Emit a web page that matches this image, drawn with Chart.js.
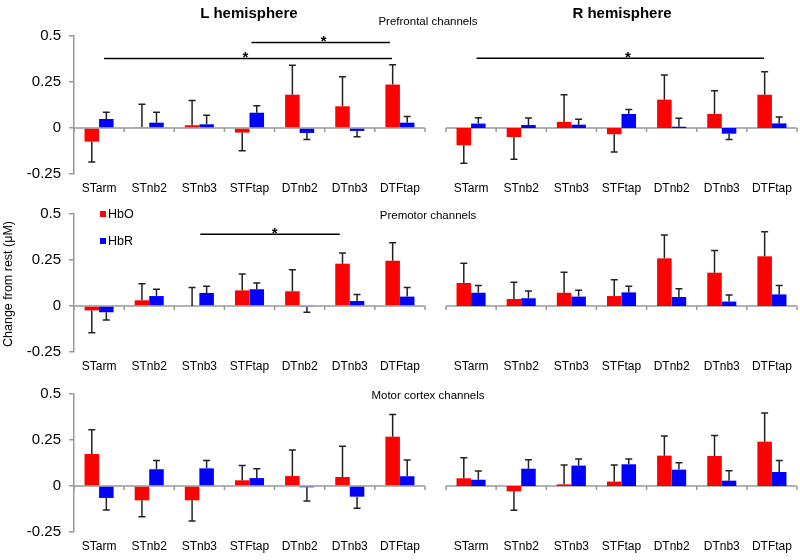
<!DOCTYPE html>
<html>
<head>
<meta charset="utf-8">
<script src="https://cdn.jsdelivr.net/npm/chart.js@4.4.0/dist/chart.umd.min.js"></script>
<style>
  body { margin: 0; background: #fff; }
  #wrap { position: relative; width: 800px; height: 560px; font-family: "Liberation Sans", Arial, sans-serif; color: #000; }
  #wrap canvas { position: absolute; }
  .txt { position: absolute; transform: translate(-50%, -50%); white-space: nowrap; }
  .hemi { font-size: 15px; font-weight: bold; }
  .region { font-size: 11.5px; }
  .ytitle { font-size: 12.5px; transform: translate(-50%, -50%) rotate(-90deg); }
  .leg { position: absolute; font-size: 12.5px; line-height: 14px; }
  .leg i { display: inline-block; width: 6px; height: 6px; margin-right: 2px; vertical-align: 1px; }
</style>
</head>
<body>
<div id="wrap">
  <canvas id="pfL" width="430" height="200" style="left:0;top:0"></canvas>
  <canvas id="pfR" width="370" height="200" style="left:430px;top:0"></canvas>
  <canvas id="pmL" width="430" height="198" style="left:0;top:180px"></canvas>
  <canvas id="pmR" width="370" height="198" style="left:430px;top:180px"></canvas>
  <canvas id="mcL" width="430" height="198" style="left:0;top:360px"></canvas>
  <canvas id="mcR" width="370" height="198" style="left:430px;top:360px"></canvas>

  <div class="txt hemi" style="left:249px;top:12px">L hemisphere</div>
  <div class="txt hemi" style="left:622px;top:12px">R hemisphere</div>
  <div class="txt region" style="left:428px;top:21px">Prefrontal channels</div>
  <div class="txt region" style="left:428px;top:215px">Premotor channels</div>
  <div class="txt region" style="left:428px;top:395px">Motor cortex channels</div>
  <div class="txt ytitle" style="left:8px;top:284px">Change from rest (μM)</div>
  <div class="leg" style="left:100px;top:207px"><i style="background:#ff0000"></i>HbO</div>
  <div class="leg" style="left:100px;top:234px"><i style="background:#0000ff"></i>HbR</div>
</div>

<script>
var conditions = ['STarm', 'STnb2', 'STnb3', 'STFtap', 'DTnb2', 'DTnb3', 'DTFtap'];

// Prefrontal
var pfL_hbo = [-0.074, 0.005, 0.015, -0.025, 0.181, 0.118, 0.236];
var pfL_hboErr = [0.111, 0.124, 0.135, 0.098, 0.160, 0.161, 0.108];
var pfL_hbr = [0.049, 0.029, 0.020, 0.083, -0.027, -0.016, 0.029];
var pfL_hbrErr = [0.036, 0.056, 0.049, 0.038, 0.035, 0.031, 0.034];
var pfR_hbo = [-0.094, -0.049, 0.033, -0.034, 0.154, 0.076, 0.181];
var pfR_hboErr = [0.098, 0.121, 0.148, 0.096, 0.134, 0.127, 0.125];
var pfR_hbr = [0.024, 0.016, 0.018, 0.076, 0.007, -0.031, 0.025];
var pfR_hbrErr = [0.032, 0.038, 0.029, 0.025, 0.046, 0.031, 0.035];

// Premotor
var pmL_hbo = [-0.024, 0.031, 0.0, 0.085, 0.080, 0.230, 0.246];
var pmL_hboErr = [0.121, 0.090, 0.100, 0.089, 0.117, 0.058, 0.098];
var pmL_hbr = [-0.034, 0.054, 0.071, 0.091, -0.005, 0.027, 0.051];
var pmL_hbrErr = [0.042, 0.037, 0.036, 0.034, 0.029, 0.036, 0.049];
var pmR_hbo = [0.125, 0.038, 0.072, 0.054, 0.259, 0.181, 0.270];
var pmR_hboErr = [0.107, 0.091, 0.111, 0.089, 0.127, 0.120, 0.134];
var pmR_hbr = [0.072, 0.042, 0.051, 0.074, 0.049, 0.024, 0.063];
var pmR_hbrErr = [0.039, 0.040, 0.034, 0.033, 0.045, 0.036, 0.049];

// Motor cortex
var mcL_hbo = [0.174, -0.078, -0.078, 0.031, 0.054, 0.049, 0.268];
var mcL_hboErr = [0.132, 0.089, 0.112, 0.080, 0.142, 0.167, 0.120];
var mcL_hbr = [-0.065, 0.091, 0.096, 0.043, -0.007, -0.058, 0.053];
var mcL_hbrErr = [0.065, 0.047, 0.043, 0.051, 0.075, 0.063, 0.088];
var mcR_hbo = [0.042, -0.029, 0.009, 0.024, 0.165, 0.163, 0.241];
var mcR_hboErr = [0.112, 0.103, 0.105, 0.090, 0.107, 0.111, 0.156];
var mcR_hbr = [0.034, 0.094, 0.111, 0.118, 0.089, 0.029, 0.076];
var mcR_hbrErr = [0.048, 0.049, 0.036, 0.029, 0.038, 0.054, 0.062];

// significance brackets: category index range, height (µM), asterisk position
var pfL_sig = [{ from: 0.1, to: 5.84, y: 0.378, star: 2.92 }, { from: 3.04, to: 5.8, y: 0.465, star: 4.48 }];
var pfR_sig = [{ from: 0.11, to: 5.84, y: 0.379, star: 3.13 }];
var pmL_sig = [{ from: 2.02, to: 4.8, y: 0.39, star: 3.5 }];

var yTicks = [-0.25, 0, 0.25, 0.5];
var fam = '"Liberation Sans", Arial, sans-serif';

function makePanel(id, hbo, hboErr, hbr, hbrErr, sig, isLeft, padTop) {
    var extras = {
        id: 'extras_' + id,
        beforeDatasetsDraw: function (chart) {
            var c = chart.ctx, x = chart.scales.x, y = chart.scales.y, a = chart.chartArea;
            var y0 = y.getPixelForValue(0);
            c.save();
            c.strokeStyle = '#999';
            c.lineWidth = 1.5;
            c.beginPath();
            c.moveTo(a.left, y0);
            c.lineTo(a.right, y0);
            for (var i = 0; i <= conditions.length; i++) {
                var px = x.getPixelForValue(i - 0.5);
                c.moveTo(px, y0);
                c.lineTo(px, y0 + 4);
            }
            c.stroke();
            c.restore();
        },
        afterDatasetsDraw: function (chart) {
            var c = chart.ctx, x = chart.scales.x, y = chart.scales.y;
            c.save();
            c.strokeStyle = '#222';
            c.lineWidth = 1.5;
            chart.data.datasets.forEach(function (ds, di) {
                var meta = chart.getDatasetMeta(di);
                meta.data.forEach(function (bar, j) {
                    var v = ds.data[j];
                    var tip = y.getPixelForValue(v < 0 ? v - ds.err[j] : v + ds.err[j]);
                    var from = y.getPixelForValue(v);
                    c.beginPath();
                    c.moveTo(bar.x, from);
                    c.lineTo(bar.x, tip);
                    c.moveTo(bar.x - 3.5, tip);
                    c.lineTo(bar.x + 3.5, tip);
                    c.stroke();
                });
            });
            c.strokeStyle = '#000';
            c.fillStyle = '#000';
            c.font = 'bold 15px ' + fam;
            c.textAlign = 'center';
            c.textBaseline = 'alphabetic';
            (sig || []).forEach(function (s) {
                var py = y.getPixelForValue(s.y);
                c.beginPath();
                c.moveTo(x.getPixelForValue(s.from), py);
                c.lineTo(x.getPixelForValue(s.to), py);
                c.stroke();
                c.fillText('*', x.getPixelForValue(s.star), py + 4);
            });
            c.restore();
        }
    };

    var ctx = document.getElementById(id).getContext('2d');
    return new Chart(ctx, {
        type: 'bar',
        data: {
            labels: conditions,
            datasets: [
                { label: 'HbO', data: hbo, err: hboErr, backgroundColor: '#ff0000' },
                { label: 'HbR', data: hbr, err: hbrErr, backgroundColor: '#0000ff' }
            ]
        },
        options: {
            responsive: false,
            animation: false,
            layout: { padding: { top: padTop, left: isLeft ? 0 : 16, right: isLeft ? 5 : 3, bottom: 0 } },
            datasets: { bar: { categoryPercentage: 0.58, barPercentage: 1.0 } },
            plugins: { legend: { display: false }, tooltip: { enabled: false } },
            scales: {
                x: {
                    grid: { display: false, drawTicks: false },
                    border: { display: false },
                    ticks: { color: '#000', font: { size: 12, family: fam }, padding: 7, maxRotation: 0, autoSkip: false },
                    afterFit: function (s) { s.height = 26; }
                },
                y: {
                    display: isLeft,
                    min: -0.25,
                    max: 0.5,
                    afterBuildTicks: function (s) { s.ticks = yTicks.map(function (v) { return { value: v }; }); },
                    ticks: { color: '#000', font: { size: 15, family: fam }, padding: 8, callback: function (v) { return String(v); } },
                    grid: { drawOnChartArea: false, tickLength: 5, tickColor: '#999', lineWidth: 1.5 },
                    border: { color: '#999', width: 1.5 },
                    afterFit: function (s) { s.width = isLeft ? 74 : 0; }
                }
            }
        },
        plugins: [extras]
    });
}

makePanel('pfL', pfL_hbo, pfL_hboErr, pfL_hbr, pfL_hbrErr, pfL_sig, true, 36);
makePanel('pfR', pfR_hbo, pfR_hboErr, pfR_hbr, pfR_hbrErr, pfR_sig, false, 36);
makePanel('pmL', pmL_hbo, pmL_hboErr, pmL_hbr, pmL_hbrErr, pmL_sig, true, 34);
makePanel('pmR', pmR_hbo, pmR_hboErr, pmR_hbr, pmR_hbrErr, null, false, 34);
makePanel('mcL', mcL_hbo, mcL_hboErr, mcL_hbr, mcL_hbrErr, null, true, 34);
makePanel('mcR', mcR_hbo, mcR_hboErr, mcR_hbr, mcR_hbrErr, null, false, 34);
</script>
</body>
</html>
